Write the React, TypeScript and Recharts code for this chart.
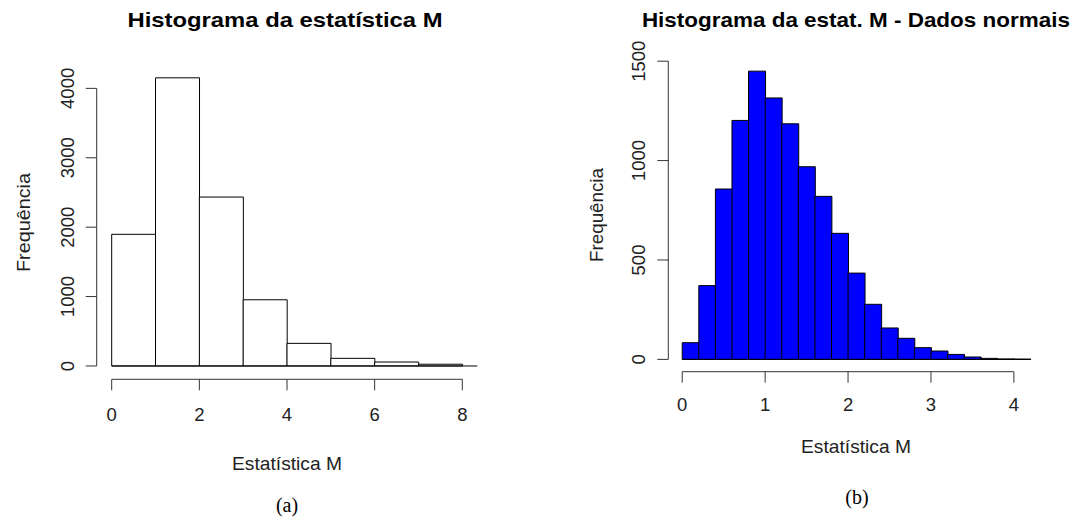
import React from 'react';
import { ComposedChart, Bar, XAxis, YAxis, ReferenceLine } from 'recharts';

// ---- data ----
const leftBinStarts = [0, 1, 2, 3, 4, 5, 6, 7];
const leftBinWidth = 1;
const leftCounts = [1897, 4152, 2434, 954, 326, 110, 57, 25];
const leftXTicks = [0, 2, 4, 6, 8];
const leftYTicks = [0, 1000, 2000, 3000, 4000];

const rightBinStarts = [0, 0.2, 0.4, 0.6, 0.8, 1.0, 1.2, 1.4, 1.6, 1.8, 2.0, 2.2, 2.4, 2.6, 2.8, 3.0, 3.2, 3.4, 3.6, 3.8, 4.0];
const rightBinWidth = 0.2;
const rightCounts = [84, 371, 857, 1202, 1450, 1315, 1185, 969, 820, 634, 434, 277, 158, 106, 59, 42, 25, 12, 5, 2, 1];
const rightXTicks = [0, 1, 2, 3, 4];
const rightYTicks = [0, 500, 1000, 1500];

const titles = ['Histograma da estatística M', 'Histograma da estat. M - Dados normais'];
const xLabel = 'Estatística M';
const yLabel = 'Frequência';
const panelLabels = ['(a)', '(b)'];

const SANS = '"Liberation Sans", Arial, sans-serif';
const SERIF = '"Liberation Serif", "Times New Roman", serif';
const AX = '#333';
const TXT = '#222';

const buildData = (starts: number[], w: number, counts: number[]) =>
  starts.map((s, i) => ({ x: s + w / 2, count: counts[i] }));

const leftData = buildData(leftBinStarts, leftBinWidth, leftCounts);
const rightData = buildData(rightBinStarts, rightBinWidth, rightCounts);

type HistProps = {
  data: { x: number; count: number }[];
  xDomain: [number, number];
  yDomain: [number, number];
  xTicks: number[];
  yTicks: number[];
  baselineEnd: number;
  fill: string;
  left: number;
  width: number;
  margin: { top: number; right: number; bottom: number; left: number };
  xTickBaseline: number;
  yTickBaseline: number;
};

function Hist(p: HistProps) {
  const XTick = (props: any) => (
    <text x={props.x} y={p.xTickBaseline} textAnchor="middle" fontFamily={SANS} fontSize={18.5} fill={TXT}>
      {props.payload.value}
    </text>
  );
  const YTick = (props: any) => (
    <text
      x={p.yTickBaseline}
      y={props.y}
      textAnchor="middle"
      transform={`rotate(-90 ${p.yTickBaseline} ${props.y})`}
      fontFamily={SANS}
      fontSize={18.5}
      fill={TXT}
    >
      {props.payload.value}
    </text>
  );
  const x0 = p.xDomain[0];
  const y0 = p.yDomain[0];
  return (
    <div style={{ position: 'absolute', left: p.left, top: 0 }}>
      <ComposedChart width={p.width} height={521} data={p.data} margin={p.margin} barCategoryGap={0} barGap={0}>
        <XAxis
          dataKey="x"
          type="number"
          domain={p.xDomain}
          ticks={p.xTicks}
          interval={0}
          allowDataOverflow
          axisLine={false}
          tickLine={{ stroke: AX, strokeWidth: 1 }}
          tickSize={11}
          height={50}
          tick={XTick}
        />
        <YAxis
          type="number"
          domain={p.yDomain}
          ticks={p.yTicks}
          interval={0}
          allowDataOverflow
          axisLine={false}
          tickLine={{ stroke: AX, strokeWidth: 1 }}
          tickSize={11}
          width={40}
          tick={YTick}
        />
        <Bar dataKey="count" fill={p.fill} stroke="#000" strokeWidth={1} isAnimationActive={false} />
        <ReferenceLine
          segment={[{ x: p.xTicks[0], y: y0 }, { x: p.xTicks[p.xTicks.length - 1], y: y0 }]}
          stroke={AX}
          strokeWidth={1}
          ifOverflow="visible"
        />
        <ReferenceLine
          segment={[{ x: x0, y: p.yTicks[0] }, { x: x0, y: p.yTicks[p.yTicks.length - 1] }]}
          stroke={AX}
          strokeWidth={1}
          ifOverflow="visible"
        />
        <ReferenceLine
          segment={[{ x: 0, y: 0 }, { x: p.baselineEnd, y: 0 }]}
          stroke="#000"
          strokeWidth={1}
          ifOverflow="visible"
        />
      </ComposedChart>
    </div>
  );
}

export default function App() {
  return (
    <div style={{ position: 'absolute', left: 0, top: 0, width: 1074, height: 521, background: '#fff' }}>
      <Hist
        data={leftData}
        xDomain={[-0.342, 8.342]}
        yDomain={[-192, 4318]}
        xTicks={leftXTicks}
        yTicks={leftYTicks}
        baselineEnd={8.342}
        fill="#ffffff"
        left={0}
        width={540}
        margin={{ top: 66.3, right: 540 - 477.3, bottom: 521 - 379.3 - 50, left: 96.7 - 40 }}
        xTickBaseline={421}
        yTickBaseline={74}
      />
      <Hist
        data={rightData}
        xDomain={[-0.168, 4.368]}
        yDomain={[-62, 1508]}
        xTicks={rightXTicks}
        yTicks={rightYTicks}
        baselineEnd={4.2}
        fill="#0000ff"
        left={540}
        width={534}
        margin={{ top: 59.6, right: 534 - (1044.4 - 540), bottom: 521 - 371.7 - 50, left: 668.3 - 540 - 40 }}
        xTickBaseline={411}
        yTickBaseline={645 - 540}
      />
      <svg width={1074} height={521} style={{ position: 'absolute', left: 0, top: 0, pointerEvents: 'none' }}>
        <text x={285} y={27.3} textAnchor="middle" fontFamily={SANS} fontWeight="bold" fontSize={20.5} fill="#000" textLength={315} lengthAdjust="spacingAndGlyphs">
          {titles[0]}
        </text>
        <text x={855.9} y={26.7} textAnchor="middle" fontFamily={SANS} fontWeight="bold" fontSize={21} fill="#000" textLength={428} lengthAdjust="spacingAndGlyphs">
          {titles[1]}
        </text>
        <text x={30} y={222.5} textAnchor="middle" transform="rotate(-90 30 222.5)" fontFamily={SANS} fontSize={19} fill={TXT} textLength={99} lengthAdjust="spacingAndGlyphs">
          {yLabel}
        </text>
        <text x={603} y={215} textAnchor="middle" transform="rotate(-90 603 215)" fontFamily={SANS} fontSize={19} fill={TXT} textLength={94} lengthAdjust="spacingAndGlyphs">
          {yLabel}
        </text>
        <text x={287} y={470} textAnchor="middle" fontFamily={SANS} fontSize={19} fill={TXT} textLength={110} lengthAdjust="spacingAndGlyphs">
          {xLabel}
        </text>
        <text x={856} y={453} textAnchor="middle" fontFamily={SANS} fontSize={19} fill={TXT} textLength={110} lengthAdjust="spacingAndGlyphs">
          {xLabel}
        </text>
        <text x={287} y={512} textAnchor="middle" fontFamily={SERIF} fontSize={20} fill="#000">
          {panelLabels[0]}
        </text>
        <text x={857} y={503.5} textAnchor="middle" fontFamily={SERIF} fontSize={20} fill="#000">
          {panelLabels[1]}
        </text>
      </svg>
    </div>
  );
}
